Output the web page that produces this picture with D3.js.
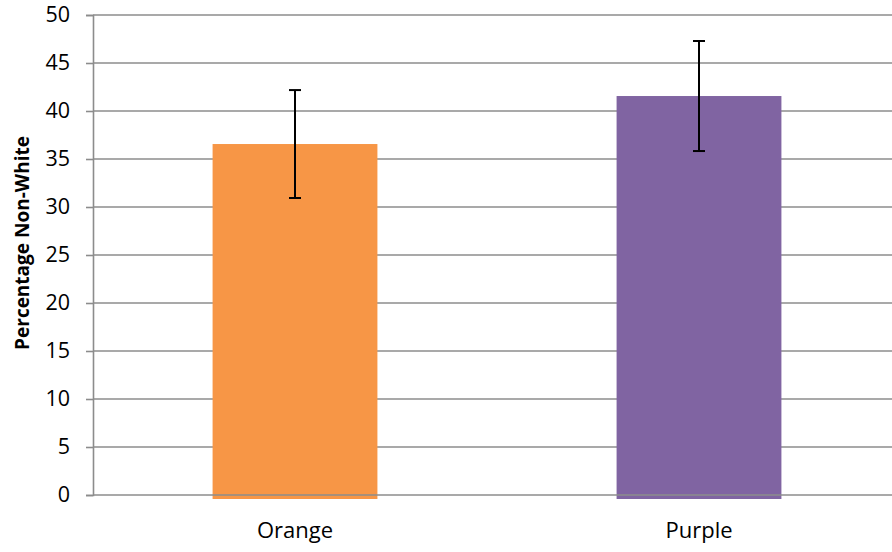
<!DOCTYPE html>
<html><head><meta charset="utf-8">
<script src="https://cdn.jsdelivr.net/npm/d3@7"></script>
<style>body{margin:0;background:#fff}svg{display:block}</style>
</head><body>
<svg id="c" width="892" height="552"></svg>
<script>
const categories = ["Orange", "Purple"];
const values = [36.56, 41.56];
const errors = [5.62, 5.73];
const colors = ["#F79646", "#8064A2"];
const yTicks = [0, 5, 10, 15, 20, 25, 30, 35, 40, 45, 50];

const svg = d3.select("#c");
const mLeft = 93, mRight = 901, mTop = 15, mBottom = 495;
const font = "'Open Sans', 'Liberation Sans', sans-serif";

const y = d3.scaleLinear().domain([0, 50]).range([mBottom, mTop]);
const x = d3.scaleBand().domain(categories).range([mLeft, mRight]).paddingInner(0.592).paddingOuter(0.296);

// gridlines
svg.append("g").selectAll("line").data(yTicks.filter(d => d > 0)).join("line")
  .attr("x1", mLeft).attr("x2", 892)
  .attr("y1", d => y(d)).attr("y2", d => y(d))
  .attr("stroke", "#8c8c8c").attr("stroke-width", 1.6);

// bars
svg.append("g").selectAll("rect").data(categories).join("rect")
  .attr("x", d => x(d)).attr("width", x.bandwidth())
  .attr("y", (d, i) => y(values[i]))
  .attr("height", (d, i) => y(0) - y(values[i]) + 4)
  .attr("fill", (d, i) => colors[i]);

// y axis
const yAxis = svg.append("g").attr("transform", `translate(${mLeft},0)`)
  .call(d3.axisLeft(y).tickValues(yTicks).tickSize(7).tickPadding(16));
yAxis.select(".domain").attr("stroke", "#8c8c8c").attr("stroke-width", 1.6);
yAxis.selectAll(".tick line").attr("stroke", "#8c8c8c").attr("stroke-width", 1.6);
yAxis.selectAll("text").attr("font-family", font).attr("font-size", 21.5).attr("fill", "#000");

// x axis
const xAxis = svg.append("g").attr("transform", `translate(0,${mBottom})`)
  .call(d3.axisBottom(x).tickSize(0).tickPadding(27));
xAxis.select(".domain").attr("d", `M${mLeft},0H892`).attr("stroke", "#8c8c8c").attr("stroke-width", 1.6);
xAxis.selectAll("text").attr("font-family", font).attr("font-size", 22).attr("fill", "#000");

// error bars
const eb = svg.append("g").attr("stroke", "#000").attr("stroke-width", 2);
categories.forEach((c, i) => {
  const cx = x(c) + x.bandwidth() / 2;
  const hi = y(values[i] + errors[i]), lo = y(values[i] - errors[i]);
  eb.append("line").attr("x1", cx).attr("x2", cx).attr("y1", hi).attr("y2", lo);
  eb.append("line").attr("x1", cx - 6).attr("x2", cx + 6).attr("y1", hi).attr("y2", hi);
  eb.append("line").attr("x1", cx - 6).attr("x2", cx + 6).attr("y1", lo).attr("y2", lo);
});

// y title
svg.append("text").attr("transform", `translate(29,243) rotate(-90)`)
  .attr("text-anchor", "middle").attr("font-family", font).attr("font-weight", "bold")
  .attr("font-size", 19).text("Percentage Non-White");
</script>
</body></html>
